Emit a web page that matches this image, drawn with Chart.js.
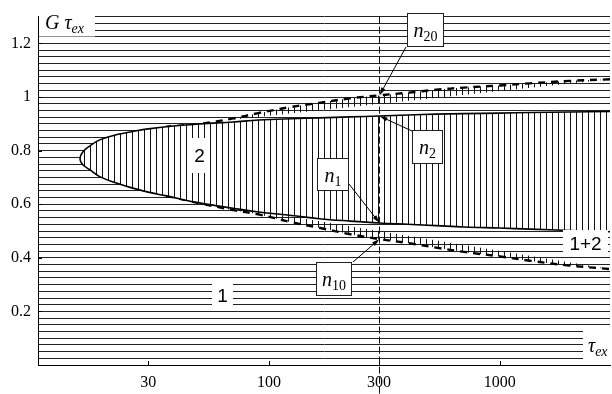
<!DOCTYPE html>
<html>
<head>
<meta charset="utf-8">
<script src="https://cdn.jsdelivr.net/npm/chart.js@4"></script>
<style>
  html, body { margin: 0; padding: 0; background: #fff; }
  #wrap { width: 612px; height: 394px; position: relative; }
</style>
</head>
<body>
<div id="wrap"><canvas id="chart"></canvas></div>
<script>
// ===== data =====
// tau_ex samples, first one is the nose of the region
const tau = [15.2, 15.6, 16.8, 18.5, 22, 26, 30, 36, 50, 70, 90, 125, 165, 225, 300, 400, 530, 700, 1000, 1350, 2000, 3000];
const solidUpper  = [0.770, 0.794, 0.818, 0.840, 0.860, 0.872, 0.881, 0.889, 0.899, 0.907, 0.914, 0.919, 0.922, 0.926, 0.929, 0.933, 0.936, 0.938, 0.940, 0.942, 0.944, 0.946];
const solidLower  = [0.770, 0.748, 0.728, 0.703, 0.678, 0.659, 0.645, 0.631, 0.605, 0.585, 0.571, 0.558, 0.546, 0.537, 0.530, 0.525, 0.520, 0.515, 0.511, 0.507, 0.502, 0.497];
const dashedUpper = [0.770, 0.794, 0.818, 0.840, 0.860, 0.872, 0.881, 0.889, 0.900, 0.920, 0.940, 0.963, 0.978, 0.995, 1.006, 1.016, 1.027, 1.035, 1.043, 1.051, 1.060, 1.066];
const dashedLower = [0.770, 0.748, 0.728, 0.703, 0.678, 0.659, 0.645, 0.631, 0.604, 0.578, 0.562, 0.533, 0.512, 0.488, 0.470, 0.455, 0.438, 0.422, 0.405, 0.389, 0.371, 0.358];
const dashedFrom = 50;          // below this the dashed boundary lies on the solid one
const markTau = 300;            // vertical dashed line + n-labels
const xTicks = [30, 100, 300, 1000];
const yLabels = [0.2, 0.4, 0.6, 0.8, 1, 1.2];

const serif = "'Liberation Serif', 'DejaVu Serif', serif";
const sans = "'Liberation Sans', Arial, sans-serif";

Chart.defaults.font.family = serif;
Chart.defaults.color = '#000';

// closed outline: upper branch right->left, then lower branch left->right
function outline(upper, lower) {
  const pts = [];
  for (let i = tau.length - 1; i >= 0; i--) pts.push({ x: tau[i], y: upper[i] });
  for (let i = 1; i < tau.length; i++) pts.push({ x: tau[i], y: lower[i] });
  return pts;
}

// vertical hatching as a fill pattern
function hatch(opaque) {
  const c = document.createElement('canvas');
  c.width = 6; c.height = 6;
  const g = c.getContext('2d');
  if (opaque) { g.fillStyle = '#fff'; g.fillRect(0, 0, 6, 6); }
  g.fillStyle = '#111';
  g.fillRect(0, 0, 1, 6);
  return g.createPattern(c, 'repeat');
}

function whiteBox(ctx, x, y, w, h, border) {
  ctx.fillStyle = '#fff';
  ctx.fillRect(x, y, w, h);
  if (border) {
    ctx.strokeStyle = '#222';
    ctx.lineWidth = 1;
    ctx.strokeRect(x + 0.5, y + 0.5, w - 1, h - 1);
  }
}

// italic symbol with a subscript
function symbol(ctx, main, sub, x, base, size, subItalic) {
  ctx.fillStyle = '#000';
  ctx.textAlign = 'left';
  ctx.textBaseline = 'alphabetic';
  ctx.font = `italic ${size}px ${serif}`;
  ctx.fillText(main, x, base);
  const w = ctx.measureText(main).width;
  ctx.font = `${subItalic ? 'italic ' : ''}${Math.round(size * 0.7)}px ${serif}`;
  ctx.fillText(sub, x + w, base + 4);
}

function nLabel(ctx, sub, x, y, w, h) {
  whiteBox(ctx, x, y, w, h, true);
  ctx.font = `italic 20px ${serif}`;
  const w1 = ctx.measureText('n').width;
  ctx.font = `14px ${serif}`;
  const w2 = ctx.measureText(sub).width;
  symbol(ctx, 'n', sub, x + (w - w1 - w2) / 2, y + 24, 20, false);
}

function arrow(ctx, x0, y0, x1, y1) {
  const a = Math.atan2(y1 - y0, x1 - x0);
  ctx.strokeStyle = '#000';
  ctx.fillStyle = '#000';
  ctx.lineWidth = 1;
  ctx.beginPath();
  ctx.moveTo(x0, y0);
  ctx.lineTo(x1 - 6 * Math.cos(a), y1 - 6 * Math.sin(a));
  ctx.stroke();
  ctx.beginPath();
  ctx.moveTo(x1, y1);
  ctx.lineTo(x1 - 8 * Math.cos(a) + 2.2 * Math.sin(a), y1 - 8 * Math.sin(a) - 2.2 * Math.cos(a));
  ctx.lineTo(x1 - 8 * Math.cos(a) - 2.2 * Math.sin(a), y1 - 8 * Math.sin(a) + 2.2 * Math.cos(a));
  ctx.closePath();
  ctx.fill();
}

function sansLabel(ctx, text, x, y, w, h) {
  whiteBox(ctx, x, y, w, h, false);
  ctx.fillStyle = '#000';
  ctx.font = `19px ${sans}`;
  ctx.textAlign = 'center';
  ctx.textBaseline = 'middle';
  ctx.fillText(text, x + w / 2, y + h / 2 + 1);
}

// ========= labels, arrows, marker line =========
const annotate = {
  id: 'annotate',
  afterDatasetsDraw(chart) {
    const { ctx, chartArea: a, scales: { x, y } } = chart;
    const k = tau.indexOf(markTau);
    const px = Math.round(x.getPixelForValue(markTau)) + 0.5;
    ctx.save();

    // inward tick marks
    ctx.strokeStyle = '#000';
    ctx.lineWidth = 1;
    ctx.beginPath();
    xTicks.forEach(v => {
      const t = Math.round(x.getPixelForValue(v)) + 0.5;
      ctx.moveTo(t, a.bottom); ctx.lineTo(t, a.bottom - 4);
    });
    yLabels.forEach(v => {
      const t = Math.round(y.getPixelForValue(v)) + 0.5;
      ctx.moveTo(a.left, t); ctx.lineTo(a.left + 4, t);
    });
    ctx.stroke();

    // vertical dashed line at tau = 300
    ctx.setLineDash([7, 3]);
    ctx.strokeStyle = '#111';
    ctx.beginPath();
    ctx.moveTo(px, a.top);
    ctx.lineTo(px, chart.height);
    ctx.stroke();
    ctx.setLineDash([]);

    // axis names
    whiteBox(ctx, a.left + 1, 7, 56, 29.5, false);
    symbol(ctx, 'G \u03C4', 'ex', a.left + 7, 29, 20, true);
    whiteBox(ctx, 583, 325, 29, 35, false);
    symbol(ctx, '\u03C4', 'ex', 588, 352, 20, true);

    // region names
    sansLabel(ctx, '1', 212, 280, 21, 31);
    sansLabel(ctx, '2', 189, 138, 21, 35);
    sansLabel(ctx, '1+2', 563, 230, 45, 27);

    // n labels pointing at the curves on tau = 300
    const ty = arr => y.getPixelForValue(arr[k]);
    arrow(ctx, 406, 47, px, ty(dashedUpper));
    arrow(ctx, 412, 131, px, ty(solidUpper));
    arrow(ctx, 349, 184, px, ty(solidLower));
    arrow(ctx, 353, 262, px, ty(dashedLower));
    nLabel(ctx, '20', 407, 13, 37, 34);
    nLabel(ctx, '2', 412, 130, 31, 34);
    nLabel(ctx, '1', 317, 158, 32, 33);
    nLabel(ctx, '10', 316, 262, 36, 34);

    ctx.restore();
  }
};

// ========= chart =========
new Chart(document.getElementById('chart'), {
  type: 'line',
  data: {
    datasets: [
      {
        // region 2 (solid boundary): white + vertical hatching, hides horizontal lines
        data: outline(solidUpper, solidLower),
        borderColor: '#000',
        borderWidth: 1.6,
        backgroundColor: hatch(true),
        fill: 'shape',
        tension: 0.4,
        pointRadius: 0
      },
      {
        // region 1+2 (dashed boundary): vertical hatching on top of horizontal lines
        data: outline(dashedUpper, dashedLower),
        borderColor: '#000',
        borderWidth: 2.4,
        borderDash: [7, 6],
        backgroundColor: hatch(false),
        fill: 'shape',
        tension: 0.4,
        pointRadius: 0,
        segment: {
          borderColor: c => {
            const d = c.chart.data.datasets[c.datasetIndex].data;
            return (d[c.p0DataIndex].x < dashedFrom && d[c.p1DataIndex].x < dashedFrom) ? 'rgba(0,0,0,0)' : undefined;
          }
        }
      }
    ]
  },
  options: {
    responsive: true,
    maintainAspectRatio: false,
    animation: false,
    layout: { padding: { top: 4, right: 2, left: 0, bottom: 0 } },
    plugins: {
      legend: { display: false },
      tooltip: { enabled: false }
    },
    scales: {
      x: {
        type: 'logarithmic',
        min: 10,
        max: 3000,
        afterBuildTicks: s => { s.ticks = xTicks.map(v => ({ value: v })); },
        afterFit: s => { s.height = 29; },
        grid: { display: false, drawTicks: false },
        border: { display: true, color: '#000', width: 1 },
        ticks: {
          color: '#000',
          font: { family: serif, size: 16 },
          padding: 8,
          maxRotation: 0,
          autoSkip: false,
          callback: v => String(v)
        }
      },
      y: {
        min: 0,
        max: 1.3,
        afterFit: s => { s.width = 38; },
        grid: { color: '#222', lineWidth: 1, drawTicks: false },
        border: { display: true, color: '#000', width: 1 },
        ticks: {
          stepSize: 0.025,
          maxTicksLimit: 200,
          autoSkip: false,
          color: '#000',
          font: { family: serif, size: 16 },
          padding: 7,
          callback: v => yLabels.some(l => Math.abs(l - v) < 1e-6) ? String(+v.toFixed(1)) : ''
        }
      }
    }
  },
  plugins: [annotate]
});
</script>
</body>
</html>
